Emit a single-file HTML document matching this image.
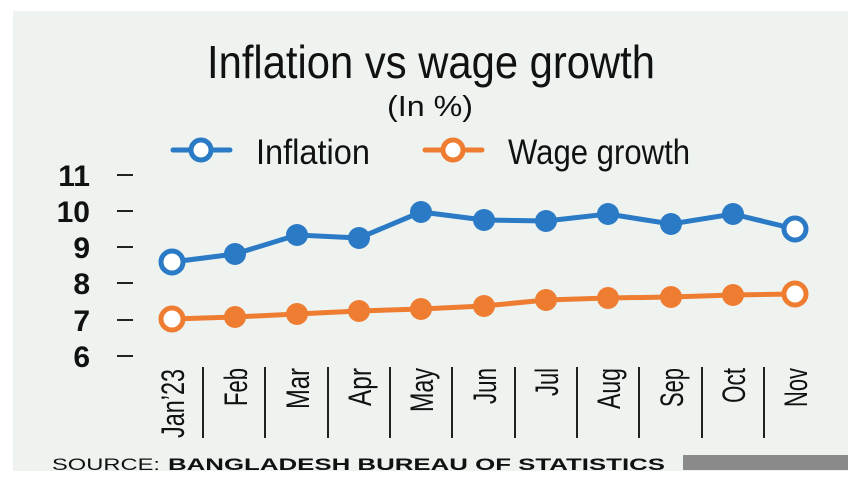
<!DOCTYPE html>
<html><head><style>
html,body{margin:0;padding:0;background:#fff;}
svg{display:block;}
</style></head><body>
<svg width="860" height="484" xmlns="http://www.w3.org/2000/svg" font-family="Liberation Sans, sans-serif">
<rect x="13" y="11" width="835" height="460" fill="#eef3f0"/>
<text x="431" y="78" font-size="46" text-anchor="middle" textLength="448" lengthAdjust="spacingAndGlyphs" fill="#111">Inflation vs wage growth</text>
<text x="430" y="116" font-size="29" text-anchor="middle" textLength="86" lengthAdjust="spacingAndGlyphs" fill="#111">(In %)</text>
<line x1="173" y1="150" x2="230" y2="150" stroke="#2a7ac6" stroke-width="5" stroke-linecap="round"/>
<circle cx="201" cy="150" r="10" fill="#fff" stroke="#2a7ac6" stroke-width="5"/>
<text x="256" y="164" font-size="35" textLength="114" lengthAdjust="spacingAndGlyphs" fill="#111">Inflation</text>
<line x1="425" y1="150" x2="482" y2="150" stroke="#ee7d32" stroke-width="5" stroke-linecap="round"/>
<circle cx="453" cy="150" r="10" fill="#fff" stroke="#ee7d32" stroke-width="5"/>
<text x="508" y="164" font-size="35" textLength="182" lengthAdjust="spacingAndGlyphs" fill="#111">Wage growth</text>
<g font-size="30" font-weight="bold" fill="#111" text-anchor="end">
<text x="90" y="186">11</text><text x="90" y="222">10</text><text x="90" y="258">9</text>
<text x="90" y="294">8</text><text x="90" y="331">7</text><text x="90" y="367">6</text>
</g>
<g stroke="#222" stroke-width="2">
<line x1="117" y1="175" x2="133" y2="175"/><line x1="117" y1="211" x2="133" y2="211"/>
<line x1="117" y1="247" x2="133" y2="247"/><line x1="117" y1="283" x2="133" y2="283"/>
<line x1="117" y1="320" x2="133" y2="320"/><line x1="117" y1="356" x2="133" y2="356"/>
<line x1="203" y1="367" x2="203" y2="438"/><line x1="265" y1="367" x2="265" y2="438"/>
<line x1="328" y1="367" x2="328" y2="438"/><line x1="390" y1="367" x2="390" y2="438"/>
<line x1="452" y1="367" x2="452" y2="438"/><line x1="515" y1="367" x2="515" y2="438"/>
<line x1="577" y1="367" x2="577" y2="438"/><line x1="639" y1="367" x2="639" y2="438"/>
<line x1="702" y1="367" x2="702" y2="438"/><line x1="764" y1="367" x2="764" y2="438"/>
</g>
<g font-size="32" fill="#111">
<text transform="translate(184,438) rotate(-90)" textLength="69" lengthAdjust="spacingAndGlyphs">Jan’23</text>
<text transform="translate(247,406) rotate(-90)" textLength="38" lengthAdjust="spacingAndGlyphs">Feb</text>
<text transform="translate(309,409) rotate(-90)" textLength="41" lengthAdjust="spacingAndGlyphs">Mar</text>
<text transform="translate(371,406) rotate(-90)" textLength="38" lengthAdjust="spacingAndGlyphs">Apr</text>
<text transform="translate(433,412) rotate(-90)" textLength="44" lengthAdjust="spacingAndGlyphs">May</text>
<text transform="translate(496,404) rotate(-90)" textLength="36" lengthAdjust="spacingAndGlyphs">Jun</text>
<text transform="translate(558,396) rotate(-90)" textLength="28" lengthAdjust="spacingAndGlyphs">Jul</text>
<text transform="translate(620,409) rotate(-90)" textLength="41" lengthAdjust="spacingAndGlyphs">Aug</text>
<text transform="translate(683,407) rotate(-90)" textLength="39" lengthAdjust="spacingAndGlyphs">Sep</text>
<text transform="translate(745,403) rotate(-90)" textLength="35" lengthAdjust="spacingAndGlyphs">Oct</text>
<text transform="translate(807,407) rotate(-90)" textLength="39" lengthAdjust="spacingAndGlyphs">Nov</text>
</g>
<polyline points="172,262 235,254 297,235 359,238 421,212 484,220 546,221 608,214 671,224 733,214 795,229" fill="none" stroke="#2a7ac6" stroke-width="5"/>
<g fill="#2a7ac6">
<circle cx="235" cy="254" r="11"/><circle cx="297" cy="235" r="11"/><circle cx="359" cy="238" r="11"/>
<circle cx="421" cy="212" r="11"/><circle cx="484" cy="220" r="11"/><circle cx="546" cy="221" r="11"/>
<circle cx="608" cy="214" r="11"/><circle cx="671" cy="224" r="11"/><circle cx="733" cy="214" r="11"/>
</g>
<circle cx="172" cy="262" r="11" fill="#fff" stroke="#2a7ac6" stroke-width="5"/>
<circle cx="795" cy="229" r="11" fill="#fff" stroke="#2a7ac6" stroke-width="5"/>
<polyline points="172,319 235,317 297,314 359,311 421,309 484,306 546,300 608,298 671,297 733,295 795,294" fill="none" stroke="#ee7d32" stroke-width="5"/>
<g fill="#ee7d32">
<circle cx="235" cy="317" r="11"/><circle cx="297" cy="314" r="11"/><circle cx="359" cy="311" r="11"/>
<circle cx="421" cy="309" r="11"/><circle cx="484" cy="306" r="11"/><circle cx="546" cy="300" r="11"/>
<circle cx="608" cy="298" r="11"/><circle cx="671" cy="297" r="11"/><circle cx="733" cy="295" r="11"/>
</g>
<circle cx="172" cy="319" r="11" fill="#fff" stroke="#ee7d32" stroke-width="5"/>
<circle cx="795" cy="294" r="11" fill="#fff" stroke="#ee7d32" stroke-width="5"/>
<text x="52" y="470" font-size="17" fill="#111" textLength="108" lengthAdjust="spacingAndGlyphs">SOURCE:</text>
<text x="168" y="470" font-size="17" font-weight="bold" fill="#111" textLength="497" lengthAdjust="spacingAndGlyphs">BANGLADESH BUREAU OF STATISTICS</text>
<rect x="683" y="455" width="165" height="15" fill="#8a8a8a"/>
</svg>
</body></html>
